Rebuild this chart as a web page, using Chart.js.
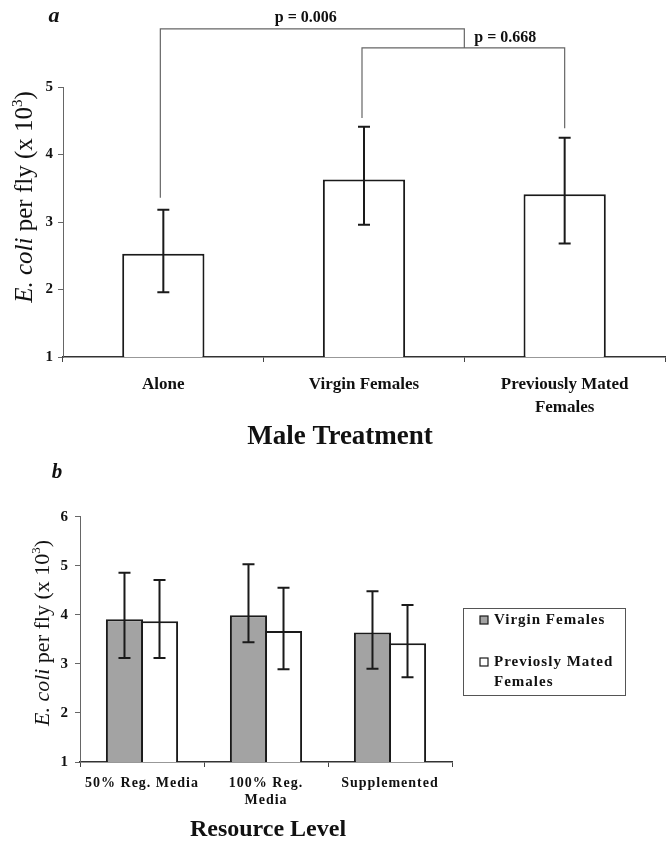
<!DOCTYPE html>
<html><head><meta charset="utf-8">
<script src="https://cdn.jsdelivr.net/npm/chart.js@4.4.1/dist/chart.umd.min.js"></script>
<style>
html,body{margin:0;padding:0;background:#fff;}
#wrap{position:relative;width:667px;height:843px;overflow:hidden;}
canvas{position:absolute;left:0;}
#cA{top:0}
#cB{top:460px}
</style></head><body>
<div id="wrap"><canvas id="cA" width="667" height="460"></canvas><canvas id="cB" width="667" height="383"></canvas></div>
<script>
const SERIF = "'Liberation Serif','Times New Roman',serif";

// ---------- Panel a data ----------
const categoriesA = ['Alone', 'Virgin Females', ['Previously Mated', 'Females']];
const meansA = [2.53, 3.63, 3.41];
const upperA = [3.18, 4.41, 4.25];
const lowerA = [1.96, 2.96, 2.68];
const yTicksA = [1, 2, 3, 4, 5];
const pLabelsA = ['p = 0.006', 'p = 0.668'];
const bracketLevelsA = [5.86, 5.58];
const bracketLegEndsA = [3.36, 4.54, 4.39];

// ---------- Panel b data ----------
const categoriesB = ['50% Reg. Media', ['100% Reg.', 'Media'], 'Supplemented'];
const seriesNamesB = [['Virgin Females'], ['Previosly Mated', 'Females']];
const virginB = [3.91, 3.99, 3.64];
const virginUpperB = [4.86, 5.03, 4.48];
const virginLowerB = [3.12, 3.44, 2.90];
const matedB = [3.87, 3.67, 3.42];
const matedUpperB = [4.71, 4.55, 4.20];
const matedLowerB = [3.12, 2.89, 2.73];
const yTicksB = [1, 2, 3, 4, 5, 6];

const INK = '#1a1a1a';
const GRAY = '#a3a3a3';

const errorBars = {
  id: 'errorBars',
  afterDatasetsDraw(chart) {
    const ctx = chart.ctx, y = chart.scales.y;
    chart.data.datasets.forEach((ds, i) => {
      const meta = chart.getDatasetMeta(i);
      meta.data.forEach((el, j) => {
        const x = el.x;
        const yh = y.getPixelForValue(ds.upper[j]);
        const yl = y.getPixelForValue(ds.lower[j]);
        ctx.save();
        ctx.strokeStyle = INK; ctx.lineWidth = 2;
        ctx.beginPath();
        ctx.moveTo(x, yh); ctx.lineTo(x, yl);
        ctx.moveTo(x - 6, yh); ctx.lineTo(x + 6, yh);
        ctx.moveTo(x - 6, yl); ctx.lineTo(x + 6, yl);
        ctx.stroke();
        ctx.restore();
      });
    });
  }
};

function fontFor(kind, s) {
  if (kind === 'italic') return `italic ${s}px ${SERIF}`;
  if (kind === 'sup') return `${Math.round(s * 0.6)}px ${SERIF}`;
  return `${s}px ${SERIF}`;
}
function drawYTitle(ctx, cx, cy, size) {
  ctx.save();
  ctx.translate(cx, cy);
  ctx.rotate(-Math.PI / 2);
  ctx.fillStyle = '#111';
  ctx.textBaseline = 'alphabetic';
  ctx.textAlign = 'left';
  const parts = [['E. coli', 'italic'], [' per fly (x 10', 'normal'], ['3', 'sup'], [')', 'normal']];
  const ws = []; let total = 0;
  parts.forEach(p => { ctx.font = fontFor(p[1], size); const w = ctx.measureText(p[0]).width; ws.push(w); total += w; });
  let x = -total / 2;
  const base = size * 0.33;
  parts.forEach((p, i) => {
    ctx.font = fontFor(p[1], size);
    ctx.fillText(p[0], x, p[1] === 'sup' ? base - size * 0.42 : base);
    x += ws[i];
  });
  ctx.restore();
}

const panelA = {
  id: 'panelA',
  afterDraw(chart) {
    const ctx = chart.ctx, xs = chart.scales.x, ys = chart.scales.y;
    ctx.save();
    ctx.fillStyle = '#111';
    ctx.textAlign = 'center'; ctx.textBaseline = 'middle';
    ctx.font = `italic bold 22px ${SERIF}`;
    ctx.fillText('a', 54, 16);
    ctx.textBaseline = 'alphabetic';
    ctx.font = `bold 27px ${SERIF}`;
    ctx.fillText('Male Treatment', 340, 444);
    drawYTitle(ctx, 24, 197, 25);

    // significance brackets
    const xa = xs.getPixelForValue(0), xv = xs.getPixelForValue(1), xp = xs.getPixelForValue(2);
    const xj = xs.getPixelForValue(1.5);
    const y1 = ys.getPixelForValue(bracketLevelsA[0]);
    const y2 = ys.getPixelForValue(bracketLevelsA[1]);
    ctx.strokeStyle = '#666'; ctx.lineWidth = 1.2;
    ctx.beginPath();
    ctx.moveTo(xa - 3, ys.getPixelForValue(bracketLegEndsA[0]));
    ctx.lineTo(xa - 3, y1); ctx.lineTo(xj, y1); ctx.lineTo(xj, y2);
    ctx.moveTo(xv - 2, ys.getPixelForValue(bracketLegEndsA[1]));
    ctx.lineTo(xv - 2, y2); ctx.lineTo(xp, y2); ctx.lineTo(xp, ys.getPixelForValue(bracketLegEndsA[2]));
    ctx.stroke();
    ctx.font = `bold 16px ${SERIF}`;
    ctx.textBaseline = 'middle';
    ctx.textAlign = 'center';
    ctx.fillText(pLabelsA[0], (xa + xj) / 2 - 8, y1 - 11);
    ctx.textAlign = 'left';
    ctx.fillText(pLabelsA[1], xj + 10, y2 - 10);
    ctx.restore();
  }
};

const panelB = {
  id: 'panelB',
  beforeDraw(chart) { chart.ctx.letterSpacing = '1px'; },
  afterDraw(chart) {
    const ctx = chart.ctx;
    ctx.save();
    ctx.letterSpacing = '0px';
    ctx.fillStyle = '#111';
    ctx.textAlign = 'center'; ctx.textBaseline = 'middle';
    ctx.font = `italic bold 21px ${SERIF}`;
    ctx.fillText('b', 57, 13);
    ctx.textBaseline = 'alphabetic';
    ctx.font = `bold 24px ${SERIF}`;
    ctx.fillText('Resource Level', 268, 376);
    drawYTitle(ctx, 42, 173, 22);

    // legend
    ctx.strokeStyle = '#555'; ctx.lineWidth = 1;
    ctx.strokeRect(463.5, 148.5, 162, 87);
    const rows = [160, 202];
    ctx.font = `bold 15px ${SERIF}`;
    ctx.letterSpacing = '1px';
    ctx.textAlign = 'left'; ctx.textBaseline = 'middle';
    chart.data.datasets.forEach((ds, i) => {
      const cy = rows[i];
      ctx.fillStyle = ds.backgroundColor;
      ctx.fillRect(480, cy - 4, 8, 8);
      ctx.strokeStyle = INK; ctx.lineWidth = 1.2;
      ctx.strokeRect(480, cy - 4, 8, 8);
      ctx.fillStyle = '#111';
      seriesNamesB[i].forEach((line, k) => ctx.fillText(line, 494, cy + k * 20));
    });
    ctx.restore();
    chart.ctx.letterSpacing = '0px';
  }
};

new Chart(document.getElementById('cA'), {
  type: 'bar',
  data: {
    labels: categoriesA,
    datasets: [{
      label: 'E. coli per fly',
      data: meansA, upper: upperA, lower: lowerA,
      backgroundColor: '#ffffff', borderColor: INK, borderWidth: 2, borderSkipped: false,
      categoryPercentage: 1, barPercentage: 0.41
    }]
  },
  options: {
    responsive: false, animation: false, events: [],
    layout: { padding: { left: 0, right: 2, top: 87, bottom: 0 } },
    plugins: { legend: { display: false }, tooltip: { enabled: false } },
    scales: {
      x: {
        grid: { display: true, drawOnChartArea: false, drawTicks: true, tickLength: 5, color: '#444', lineWidth: 1 },
        border: { display: true, color: '#333', width: 1.5 },
        ticks: { color: '#111', font: { family: SERIF, size: 17, weight: 'bold', lineHeight: 1.3 }, padding: 12, maxRotation: 0, autoSkip: false },
        afterFit(s) { s.height = 103; }
      },
      y: {
        min: 1, max: 5,
        afterBuildTicks(s) { s.ticks = yTicksA.map(v => ({ value: v })); },
        grid: { display: true, drawOnChartArea: false, drawTicks: true, tickLength: 5, color: '#666' },
        border: { display: true, color: '#666', width: 1 },
        ticks: { color: '#111', font: { family: SERIF, size: 15, weight: 'bold' }, padding: 5 },
        afterFit(s) { s.width = 63; }
      }
    }
  },
  plugins: [errorBars, panelA]
});

new Chart(document.getElementById('cB'), {
  type: 'bar',
  data: {
    labels: categoriesB,
    datasets: [
      {
        label: seriesNamesB[0].join(' '),
        data: virginB, upper: virginUpperB, lower: virginLowerB,
        backgroundColor: GRAY, borderColor: INK, borderWidth: 2, borderSkipped: false,
        categoryPercentage: 0.565, barPercentage: 1.06
      },
      {
        label: seriesNamesB[1].join(' '),
        data: matedB, upper: matedUpperB, lower: matedLowerB,
        backgroundColor: '#ffffff', borderColor: INK, borderWidth: 2, borderSkipped: false,
        categoryPercentage: 0.565, barPercentage: 1.06
      }
    ]
  },
  options: {
    responsive: false, animation: false, events: [],
    layout: { padding: { left: 0, right: 215, top: 56.7, bottom: 0 } },
    plugins: { legend: { display: false }, tooltip: { enabled: false } },
    scales: {
      x: {
        grid: { display: true, drawOnChartArea: false, drawTicks: true, tickLength: 5, color: '#444', lineWidth: 1 },
        border: { display: true, color: '#333', width: 1.5 },
        ticks: { color: '#111', font: { family: SERIF, size: 14, weight: 'bold', lineHeight: 1.2 }, padding: 8, maxRotation: 0, autoSkip: false },
        afterFit(s) { s.height = 81; }
      },
      y: {
        min: 1, max: 6,
        afterBuildTicks(s) { s.ticks = yTicksB.map(v => ({ value: v })); },
        grid: { display: true, drawOnChartArea: false, drawTicks: true, tickLength: 5, color: '#666' },
        border: { display: true, color: '#666', width: 1 },
        ticks: { color: '#111', font: { family: SERIF, size: 15, weight: 'bold' }, padding: 6 },
        afterFit(s) { s.width = 80; }
      }
    }
  },
  plugins: [errorBars, panelB]
});
</script>
</body></html>
